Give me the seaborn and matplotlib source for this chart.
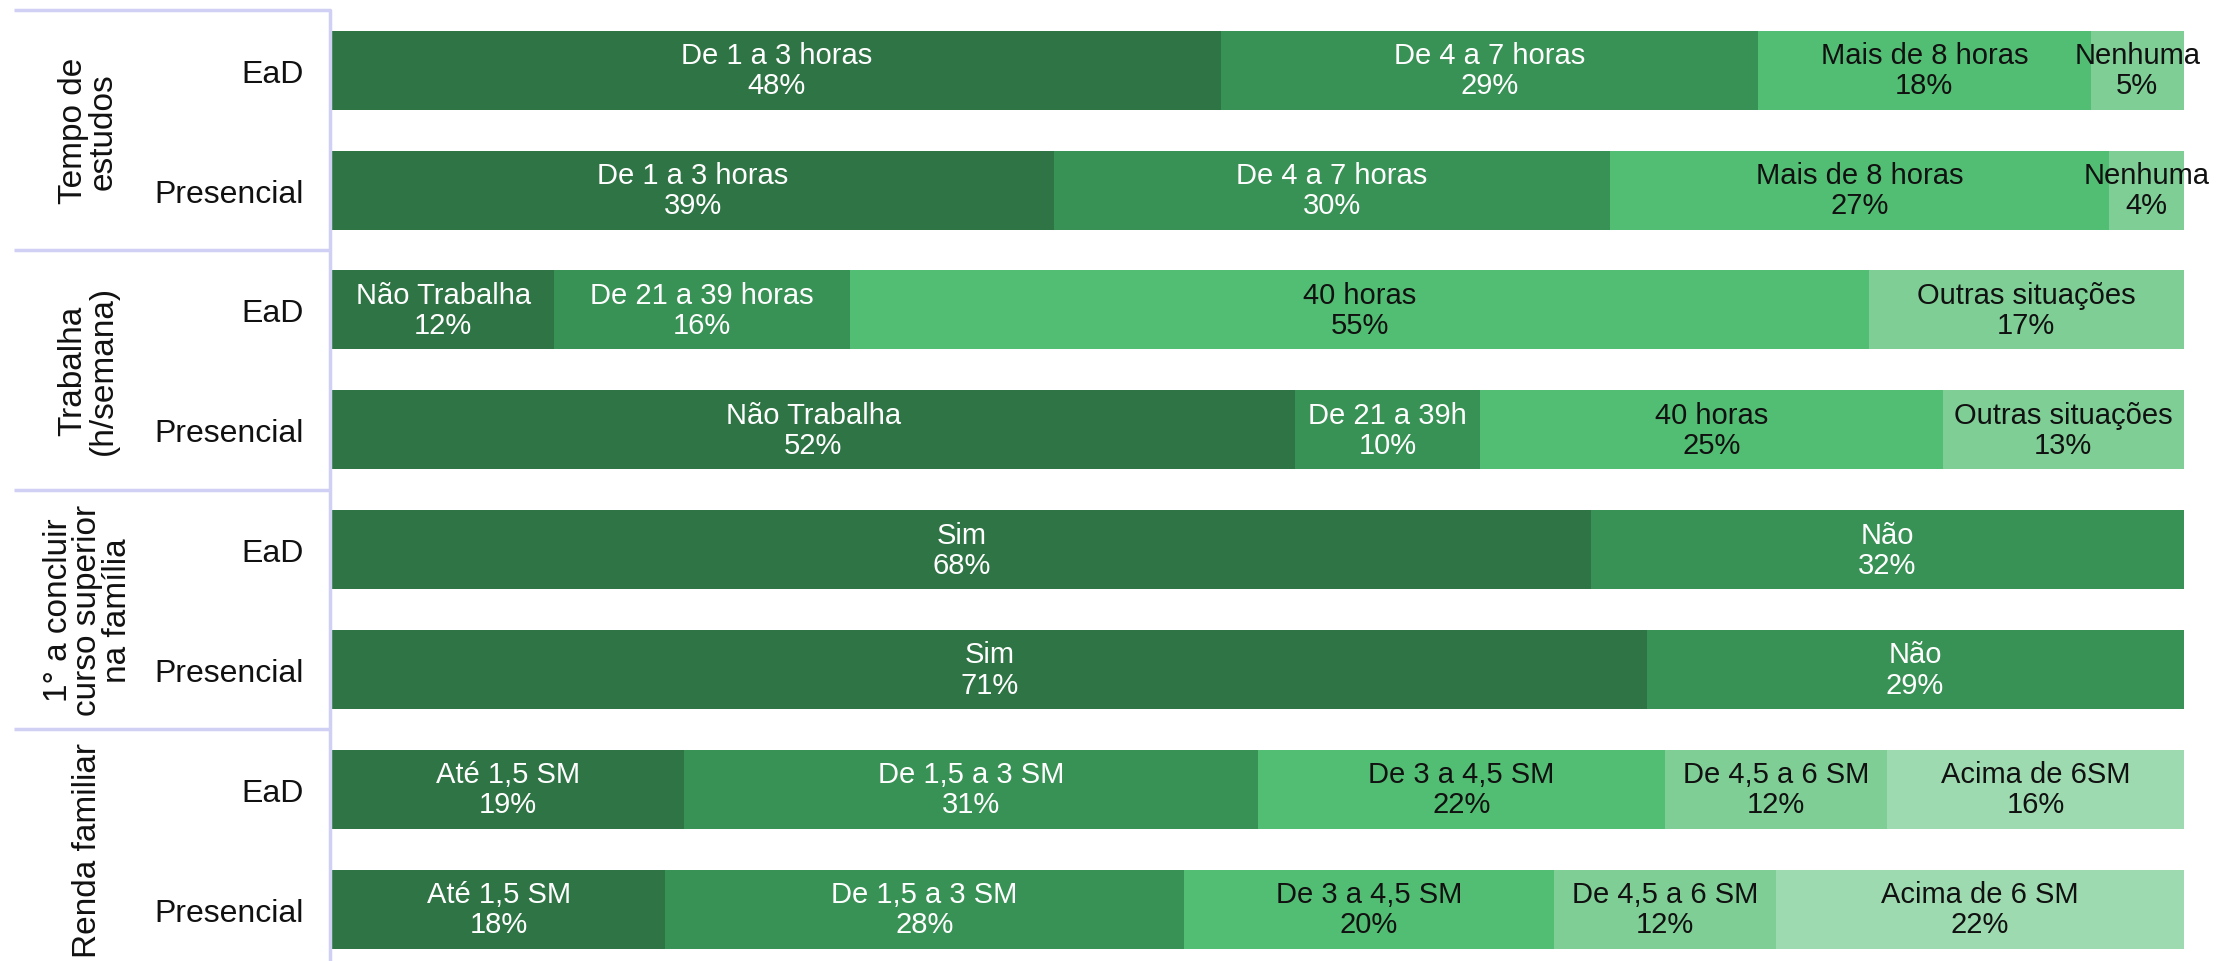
import numpy as np
import pandas as pd
import matplotlib
matplotlib.use("Agg")
import matplotlib.pyplot as plt
import matplotlib.font_manager as fm
import seaborn as sns

# ---- data ----
groups = ["Tempo de\nestudos", "Trabalha\n(h/semana)", "1° a concluir\ncurso superior\nna família", "Renda familiar"]
modalities = ["EaD", "Presencial"]

tempo_ead_cats = ["De 1 a 3 horas", "De 4 a 7 horas", "Mais de 8 horas", "Nenhuma"]
tempo_ead_vals = [48, 29, 18, 5]
tempo_pres_cats = ["De 1 a 3 horas", "De 4 a 7 horas", "Mais de 8 horas", "Nenhuma"]
tempo_pres_vals = [39, 30, 27, 4]

trab_ead_cats = ["Não Trabalha", "De 21 a 39 horas", "40 horas", "Outras situações"]
trab_ead_vals = [12, 16, 55, 17]
trab_pres_cats = ["Não Trabalha", "De 21 a 39h", "40 horas", "Outras situações"]
trab_pres_vals = [52, 10, 25, 13]

prim_ead_cats = ["Sim", "Não"]
prim_ead_vals = [68, 32]
prim_pres_cats = ["Sim", "Não"]
prim_pres_vals = [71, 29]

renda_ead_cats = ["Até 1,5 SM", "De 1,5 a 3 SM", "De 3 a 4,5 SM", "De 4,5 a 6 SM", "Acima de 6SM"]
renda_ead_vals = [19, 31, 22, 12, 16]
renda_pres_cats = ["Até 1,5 SM", "De 1,5 a 3 SM", "De 3 a 4,5 SM", "De 4,5 a 6 SM", "Acima de 6 SM"]
renda_pres_vals = [18, 28, 20, 12, 22]

palette = ["#2E7444", "#389255", "#52BE73", "#7ECE95", "#9DDAAF"]
text_colors = ["white", "white", "#111111", "#111111", "#111111"]

rows_spec = [
    (0, "EaD", tempo_ead_cats, tempo_ead_vals),
    (0, "Presencial", tempo_pres_cats, tempo_pres_vals),
    (1, "EaD", trab_ead_cats, trab_ead_vals),
    (1, "Presencial", trab_pres_cats, trab_pres_vals),
    (2, "EaD", prim_ead_cats, prim_ead_vals),
    (2, "Presencial", prim_pres_cats, prim_pres_vals),
    (3, "EaD", renda_ead_cats, renda_ead_vals),
    (3, "Presencial", renda_pres_cats, renda_pres_vals),
]

records = []
row_ids = []
for gi, mod, cats, vals in rows_spec:
    rid = f"{gi}|{mod}"
    row_ids.append(rid)
    cum = 0
    for k, (c, v) in enumerate(zip(cats, vals)):
        records.append(dict(row=rid, group=gi, modality=mod, seg=k, cat=c,
                            value=v, left=cum, end=cum + v))
        cum += v
df = pd.DataFrame(records)

# ---- fonts ----
sns.set_theme(style="white")
avail = {f.name for f in fm.fontManager.ttflist}
narrow = "Liberation Sans Narrow" if "Liberation Sans Narrow" in avail else "Liberation Sans"
regular = "Liberation Sans" if "Liberation Sans" in avail else "DejaVu Sans"
plt.rcParams["font.family"] = [narrow, "DejaVu Sans"]

W, H = 2216, 962
fig = plt.figure(figsize=(W / 100, H / 100), dpi=100)
ax_left = 332 / W
ax_w = (2183.5 - 332) / W
top_px = 11.3
ax = fig.add_axes([ax_left, 0, ax_w, 1 - top_px / H])

# stacked bars: draw cumulative ends from last segment to first
for k in sorted(df["seg"].unique(), reverse=True):
    sub = df[df["seg"] == k]
    sns.barplot(data=sub, x="end", y="row", order=row_ids, color=palette[k],
                saturation=1, width=0.66, ax=ax, orient="h", errorbar=None,
                linewidth=0, edgecolor="none")

pitch = (H - top_px) / 7.932
ax.set_ylim(-0.5 + (H - top_px) / pitch, -0.5)
ax.set_xlim(0, 100)

# segment labels
ypos = {rid: i for i, rid in enumerate(row_ids)}
for _, r in df.iterrows():
    xc = r["left"] + r["value"] / 2
    ax.text(xc, ypos[r["row"]], f"{r['cat']}\n{r['value']}%", ha="center", va="center",
            fontsize=21, color=text_colors[r["seg"]], family=[narrow, "DejaVu Sans"],
            linespacing=1.1, clip_on=False)

# tick labels
ax.set_yticks(range(len(row_ids)))
ax.set_yticklabels([rid.split("|")[1] for rid in row_ids], fontsize=23,
                   family=[narrow, "DejaVu Sans"], color="#111111")
ax.tick_params(axis="y", length=0, pad=20)
ax.set_xticks([])
ax.set_xlabel("")
ax.set_ylabel("")
for s in ax.spines.values():
    s.set_visible(False)

line_color = "#D0D0F5"
def px_to_x(px):
    return (px - 332) / (2183.5 - 332) * 100

for gi, g in enumerate(groups):
    ax.text(px_to_x(88), 2 * gi + 0.5, g, rotation=90, ha="center", va="center",
            multialignment="center", fontsize=24, family=[regular, "DejaVu Sans"],
            color="#111111", linespacing=0.95, clip_on=False)

for yline in [-0.5, 1.5, 3.5, 5.5]:
    ax.plot([px_to_x(14), px_to_x(330)], [yline, yline], color=line_color, lw=2.5,
            clip_on=False, solid_capstyle="butt")
ax.plot([px_to_x(330), px_to_x(330)], [-0.5, 8], color=line_color, lw=2.5, clip_on=False)

fig.savefig("out.png", dpi=100)
